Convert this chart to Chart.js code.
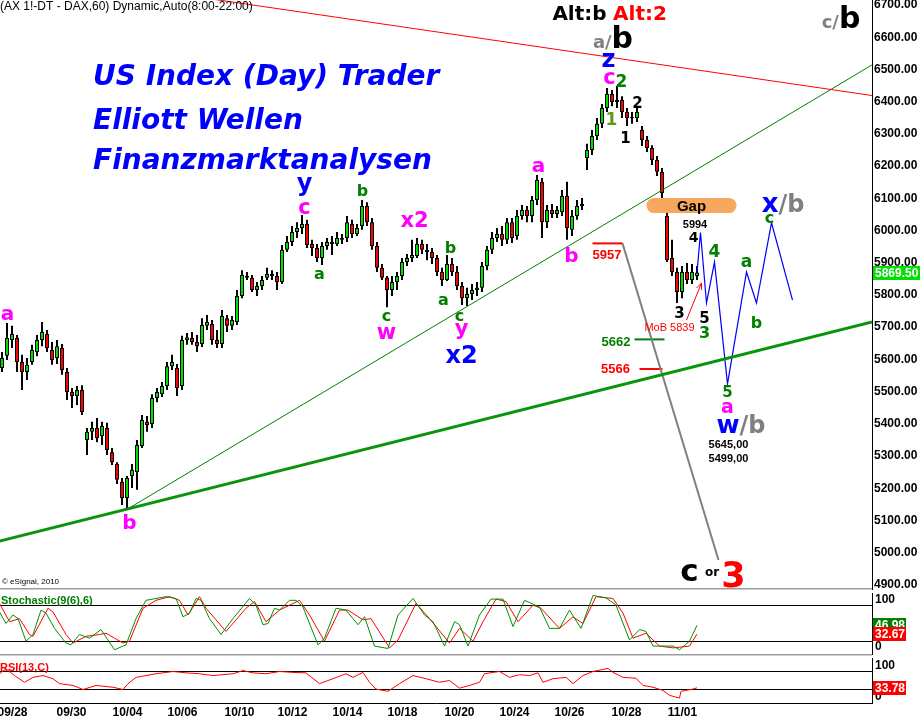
<!DOCTYPE html>
<html>
<head>
<meta charset="utf-8">
<title>DAX 60 - Elliott Wellen</title>
<script src="https://cdn.jsdelivr.net/npm/chart.js@4.4.1/dist/chart.umd.min.js"></script>
<style>
  html, body { margin: 0; padding: 0; background: #fff; }
  #board { position: relative; width: 920px; height: 719px; overflow: hidden; background: #fff; }
  #board canvas { position: absolute; left: 0; }
</style>
</head>
<body>
<div id="board">
  <canvas id="price" width="920" height="590" style="top:0;width:920px;height:590px"></canvas>
  <canvas id="stoch" width="920" height="66" style="top:590px;width:920px;height:66px"></canvas>
  <canvas id="rsi" width="920" height="63" style="top:656px;width:920px;height:63px"></canvas>
</div>
<script>

// Data

// hourly candles (FDAX 60 min), one entry per bar
var barOpen = [
  5573, 5611, 5660, 5666, 5592, 5561, 5592, 5623, 5660, 5679,
  5629, 5604, 5635, 5561, 5499, 5486, 5505, 5350, 5375, 5387,
  5362, 5387, 5312, 5275, 5219, 5170, 5238, 5250, 5331, 5406,
  5399, 5480, 5492, 5517, 5579, 5573, 5517, 5660, 5666, 5654,
  5648, 5704, 5710, 5660, 5648, 5728, 5704, 5716, 5797, 5859,
  5853, 5815, 5828, 5853, 5865, 5859, 5840, 5940, 5964, 5995,
  6008, 6020, 5958, 5946, 5915, 5952, 5964, 5958, 5977, 5977,
  6020, 5989, 6014, 6076, 6026, 5952, 5884, 5853, 5815, 5840,
  5859, 5902, 5915, 5921, 5958, 5940, 5933, 5915, 5871, 5846,
  5896, 5871, 5828, 5790, 5803, 5815, 5822, 5890, 5940, 5977,
  5989, 5971, 6026, 5983, 6045, 6064, 6045, 6095, 6151, 6026,
  6064, 6051, 6057, 6107, 6002, 6045, 6076, 6225, 6250, 6293,
  6331, 6380, 6424, 6399, 6405, 6368, 6349, 6349, 6312, 6281,
  6256, 6219, 6182, 6045, 5915, 5871, 5809, 5871, 5846, 5859
];
var barHigh = [
  5623, 5713, 5704, 5676, 5614, 5604, 5645, 5676, 5716, 5691,
  5654, 5660, 5648, 5573, 5511, 5517, 5520, 5387, 5406, 5418,
  5406, 5403, 5325, 5281, 5232, 5238, 5275, 5350, 5427, 5424,
  5492, 5511, 5530, 5592, 5614, 5586, 5673, 5682, 5685, 5676,
  5728, 5738, 5722, 5691, 5753, 5738, 5735, 5815, 5877, 5871,
  5862, 5840, 5859, 5884, 5877, 5871, 5955, 5983, 6014, 6026,
  6048, 6033, 5971, 5958, 5964, 5977, 5983, 5995, 5989, 6045,
  6033, 6020, 6095, 6088, 6039, 5964, 5896, 5859, 5859, 5871,
  5915, 5927, 5971, 5977, 5971, 5958, 5946, 5924, 5884, 5924,
  5915, 5890, 5840, 5822, 5834, 5840, 5902, 5952, 5995, 6008,
  6014, 6039, 6039, 6064, 6079, 6076, 6107, 6172, 6163, 6079,
  6082, 6076, 6126, 6151, 6064, 6095, 6101, 6269, 6312, 6349,
  6393, 6442, 6436, 6449, 6417, 6380, 6368, 6380, 6324, 6293,
  6265, 6231, 6194, 6057, 5971, 5884, 5890, 5899, 5896, 5890
];
var barLow = [
  5561, 5598, 5635, 5561, 5505, 5536, 5583, 5610, 5641, 5623,
  5583, 5586, 5552, 5474, 5449, 5458, 5427, 5303, 5350, 5343,
  5334, 5303, 5272, 5213, 5148, 5139, 5201, 5195, 5325, 5375,
  5387, 5467, 5483, 5505, 5567, 5486, 5505, 5645, 5645, 5623,
  5638, 5691, 5645, 5635, 5635, 5685, 5691, 5707, 5790, 5846,
  5809, 5797, 5815, 5846, 5846, 5815, 5834, 5933, 5952, 5977,
  5989, 5946, 5921, 5902, 5893, 5940, 5924, 5952, 5958, 5964,
  5977, 5983, 6002, 6014, 5940, 5871, 5846, 5762, 5797, 5815,
  5846, 5890, 5902, 5915, 5927, 5908, 5896, 5859, 5828, 5843,
  5859, 5815, 5769, 5766, 5784, 5797, 5809, 5877, 5927, 5964,
  5952, 5958, 5961, 5971, 6033, 6026, 6026, 6079, 5977, 6008,
  6039, 6039, 6045, 5971, 5983, 6033, 6064, 6188, 6234, 6281,
  6318, 6368, 6386, 6380, 6349, 6324, 6331, 6337, 6262, 6244,
  6203, 6169, 6101, 5902, 5859, 5775, 5790, 5834, 5834, 5846
];
var barClose = [
  5604, 5666, 5679, 5592, 5561, 5583, 5629, 5660, 5685, 5635,
  5598, 5641, 5567, 5499, 5486, 5505, 5437, 5375, 5387, 5356,
  5393, 5319, 5281, 5226, 5170, 5232, 5257, 5334, 5412, 5396,
  5480, 5499, 5517, 5579, 5592, 5511, 5660, 5669, 5654, 5641,
  5707, 5716, 5660, 5648, 5735, 5704, 5722, 5797, 5862, 5853,
  5815, 5828, 5846, 5865, 5859, 5840, 5940, 5964, 5995, 6008,
  6020, 5955, 5946, 5915, 5952, 5964, 5958, 5977, 5971, 6026,
  5989, 6008, 6076, 6026, 5952, 5884, 5853, 5815, 5840, 5859,
  5902, 5915, 5924, 5958, 5940, 5933, 5915, 5871, 5846, 5896,
  5871, 5828, 5790, 5803, 5815, 5822, 5890, 5940, 5977, 5989,
  5971, 6026, 5977, 6045, 6064, 6045, 6095, 6157, 6026, 6064,
  6051, 6064, 6107, 6008, 6045, 6076, 6082, 6250, 6293, 6331,
  6380, 6424, 6399, 6405, 6368, 6349, 6352, 6368, 6281, 6256,
  6219, 6182, 6116, 5908, 5871, 5809, 5871, 5846, 5871, 5869.5
];

// date ticks (bar index where each label sits)
var dateLabels = ['09/28', '09/30', '10/04', '10/06', '10/10', '10/12', '10/14',
                  '10/18', '10/20', '10/24', '10/26', '10/28', '11/01'];
var datePos = [2.1, 13.9, 25.1, 36.1, 47.5, 58.1, 69.1, 80.1, 91.5, 102.5, 113.5, 124.9, 136.1];

// Stochastic(9(6),6): %K green, %D red
var stochKBar = [-0.5, 0.8, 2.2, 3.2, 4.8, 6.2, 7.8, 8.8, 10.5, 12.8,
  13.8, 15.5, 17.5, 19.8, 22.5, 24.8, 26.8, 28.8, 32.8, 34.8,
  36.2, 37.5, 38.8, 39.8, 41.5, 43.8, 46.2, 49.5, 50.8, 52.2,
  53.2, 54.5, 55.5, 57.5, 58.8, 60.2, 63.2, 64.5, 66.8, 68.8,
  71.2, 72.5, 74.5, 77.2, 79.2, 82.2, 84.5, 86.2, 88.5, 90.5,
  91.5, 93.2, 95.5, 97.8, 100.2, 102.2, 104.5, 107.5, 109.5, 111.5,
  113.5, 115.8, 118.2, 120.8, 122.8, 125.5, 127.5, 128.8, 130.2, 131.5,
  134.2, 135.5, 137.5, 139];
var stochK = [69, 50, 64, 58, 21, 32, 72, 67, 42, 18,
  15, 32, 26, 40, 7, 15, 58, 88, 94, 91,
  61, 67, 91, 88, 58, 32, 58, 91, 80, 48,
  50, 75, 72, 88, 88, 77, 15, 26, 75, 72,
  48, 61, 13, 9, 64, 91, 64, 53, 13, 53,
  48, 13, 64, 90, 90, 45, 88, 77, 42, 42,
  72, 42, 96, 92, 80, 23, 40, 37, 13, 13,
  13, 7, 21, 46.98];
var stochDBar = [-0.5, 1.5, 3.5, 5.5, 6.2, 9.2, 10.2, 12.8, 14.2, 16.8,
  19.5, 20.8, 22.5, 24.2, 25.5, 28.2, 30.8, 33.5, 35.5, 37.2,
  39.5, 40.8, 44.8, 48.8, 50.5, 52.8, 55.5, 59.5, 61.5, 64.5,
  67.5, 69.2, 72.2, 73.8, 77.5, 79.2, 82.8, 85.5, 89.5, 91.5,
  92.8, 94.2, 96.2, 98.8, 100.8, 103.2, 106.2, 107.8, 111.5, 114.2,
  116.2, 118.8, 122.2, 124.2, 126.2, 128.8, 131.5, 134.2, 137.5, 139];
var stochD = [83, 53, 58, 32, 29, 75, 69, 32, 18, 29,
  32, 34, 26, 18, 21, 75, 88, 94, 88, 64,
  94, 75, 37, 75, 86, 53, 72, 88, 64, 21,
  72, 72, 56, 58, 10, 23, 83, 58, 18, 42,
  32, 21, 53, 90, 86, 53, 80, 75, 42, 61,
  50, 94, 91, 67, 26, 34, 13, 10, 13, 32.67];

// RSI(13,C)
var rsiBar = [-0.5, 0.8, 2.5, 4.5, 6.2, 8.2, 10.2, 11.5, 14.2, 16.2,
  18.8, 22.2, 24.2, 25.2, 26.8, 28.8, 30.8, 34.2, 36.8, 39.5,
  42.2, 46.2, 48.2, 50.2, 52.8, 55.5, 58.2, 60.8, 63.5, 66.2,
  68.8, 70.2, 72.2, 73.5, 74.8, 77.2, 79.5, 82.2, 84.8, 87.5,
  89.5, 91.5, 93.5, 95.5, 96.5, 98.2, 99.5, 101.5, 103.5, 105.5,
  107.2, 108.2, 110.2, 112.8, 114.2, 116.2, 118.2, 121.2, 122.2, 124.2,
  126.8, 128.2, 130.2, 132.2, 133.5, 135.5, 135.8, 138.2, 139];
var rsiVal = [65, 76, 61, 46, 57, 61, 54, 43, 39, 30,
  39, 35, 30, 43, 57, 61, 65, 70, 67, 65,
  61, 65, 72, 67, 65, 70, 68, 67, 43, 54,
  65, 57, 68, 46, 31, 26, 43, 61, 54, 46,
  50, 33, 39, 46, 65, 68, 70, 57, 63, 61,
  67, 46, 54, 57, 43, 61, 70, 77, 68, 57,
  55, 39, 35, 28, 17, 11, 26, 31, 33.78];

var lastPrice = 5869.5;

// projected wave path (blue)
var projBar = [139, 139.7, 140.9, 142.5, 145.1, 148.9, 150.9, 153.9, 158.1];
var projPrice = [5869.5, 5994, 5775, 5902, 5524, 5871, 5775, 6024, 5784];


// Annotations (data units: bar index / price)

var RED = '#ff0000', MAG = '#ff00ff', BLUE = '#0000ff', GRN = '#008000',
    OLIVE = '#5c9a1c', GREY = '#808080', BLK = '#000000';

var trendLines = [
  { from: [40, 6723], to: [174, 6419], color: RED, width: 1 },
  { from: [25.5, 5139], to: [174, 6514], color: GRN, width: 1 },
  { from: [-0.5, 5036], to: [174, 5716], color: '#0a940a', width: 3 },
  { from: [118.1, 5960], to: [124.1, 5960], color: RED, width: 2 },
  { from: [124.1, 5960], to: [143.3, 4977], color: GREY, width: 2 },
  { from: [126.5, 5662], to: [132.5, 5662], color: GRN, width: 2 },
  { from: [127.5, 5570], to: [132.1, 5570], color: RED, width: 2 }
];

var waveLabels = [
  { t: 'a', b: 1.1, p: 5738, c: MAG, s: 20 },
  { t: 'b', b: 25.5, p: 5095, c: MAG, s: 20 },
  { t: 'y', b: 60.5, p: 6135, c: BLUE, s: 24 },
  { t: 'c', b: 60.5, p: 6070, c: MAG, s: 21 },
  { t: 'a', b: 63.5, p: 5862, c: GRN, s: 16 },
  { t: 'b', b: 72.1, p: 6126, c: GRN, s: 16 },
  { t: 'x2', b: 82.5, p: 6033, c: MAG, s: 21 },
  { t: 'c', b: 76.9, p: 5731, c: GRN, s: 16 },
  { t: 'w', b: 76.9, p: 5682, c: MAG, s: 21 },
  { t: 'b', b: 89.7, p: 5949, c: GRN, s: 16 },
  { t: 'a', b: 88.3, p: 5781, c: GRN, s: 16 },
  { t: 'c', b: 91.5, p: 5731, c: GRN, s: 16 },
  { t: 'y', b: 91.9, p: 5685, c: MAG, s: 21 },
  { t: 'x2', b: 91.9, p: 5614, c: BLUE, s: 24 },
  { t: 'a', b: 107.3, p: 6197, c: MAG, s: 20 },
  { t: 'b', b: 113.9, p: 5924, c: MAG, s: 20 },
  { t: 'z', b: 121.3, p: 6529, c: BLUE, s: 24 },
  { t: 'c', b: 121.5, p: 6473, c: MAG, s: 21 },
  { t: '2', b: 123.9, p: 6464, c: GRN, s: 17 },
  { t: '1', b: 121.9, p: 6346, c: OLIVE, s: 17 },
  { t: '2', b: 127.1, p: 6396, c: BLK, s: 15 },
  { t: '1', b: 124.7, p: 6287, c: BLK, s: 15 },
  { t: 'Alt:b', b: 115.5, p: 6675, c: BLK, s: 20 },
  { t: 'Alt:2', b: 127.6, p: 6675, c: RED, s: 20 },
  { t: '4', b: 138.3, p: 5980, c: BLK, s: 14 },
  { t: '4', b: 142.5, p: 5936, c: GRN, s: 17 },
  { t: 'a', b: 148.9, p: 5902, c: GRN, s: 17 },
  { t: 'c', b: 153.5, p: 6036, c: GRN, s: 16 },
  { t: 'b', b: 150.9, p: 5716, c: GRN, s: 16 },
  { t: '3', b: 135.5, p: 5744, c: BLK, s: 15 },
  { t: '5', b: 140.5, p: 5731, c: BLK, s: 15 },
  { t: '3', b: 140.5, p: 5685, c: GRN, s: 16 },
  { t: '5', b: 145.1, p: 5499, c: GRN, s: 15 },
  { t: 'a', b: 145.1, p: 5449, c: MAG, s: 19 },
  { t: 'c', b: 137.5, p: 4937, c: BLK, s: 31 },
  { t: 'or', b: 142, p: 4937, c: BLK, s: 12 },
  { t: '3', b: 146.3, p: 4931, c: RED, s: 35 }
];

// mixed-colour labels, placed on their baseline
var waveGroups = [
  { parts: [['a/', GREY, 18], ['b', BLK, 30]], b: 122.2, p: 6565 },
  { parts: [['c/', GREY, 18], ['b', BLK, 30]], b: 167.8, p: 6629 },
  { parts: [['x', BLUE, 26], ['/', GREY, 24], ['b', GREY, 24]], b: 156.2, p: 6057 },
  { parts: [['w', BLUE, 25], ['/', GREY, 24], ['b', GREY, 24]], b: 147.8, p: 5371 }
];

var priceNotes = [
  { t: '5994', b: 138.6, p: 6020, c: BLK, f: 'bold 11px Arial', s: 11 },
  { t: '5645,00', b: 145.3, p: 5338, c: BLK, f: 'bold 11px Arial', s: 11 },
  { t: '5499,00', b: 145.3, p: 5295, c: BLK, f: 'bold 11px Arial', s: 11 },
  { t: '5957', b: 121.0, p: 5927, c: RED, f: 'bold 13px Arial', s: 14 },
  { t: '5662', b: 122.8, p: 5658, c: GRN, f: 'bold 13px Arial', s: 14 },
  { t: '5566', b: 122.7, p: 5573, c: RED, f: 'bold 13px Arial', s: 14 },
  { t: 'MoB 5839', b: 133.5, p: 5701, c: RED, f: '11px Arial', s: 12 }
];

var gapZone = { from: 128.9, to: 146.9, top: 6101, bottom: 6054 };
var mobArrow = [[136.9, 5722], [139.9, 5837]];


// Methods

// bar i sits on pixel column 5i+2, so 4px bodies and 2px wicks stay crisp
var X_MIN = -0.4, X_MAX = 174.0;

Chart.defaults.font.family = 'Arial, "Liberation Sans", sans-serif';
Chart.defaults.color = '#000';

function points(xs, ys) {
  return xs.map(function (x, i) { return { x: x, y: ys[i] }; });
}

function lineSet(data, color, width) {
  return {
    type: 'line', data: data, borderColor: color, borderWidth: width,
    pointRadius: 0, tension: 0, fill: false, order: 0
  };
}

function fixAxis(scale) {
  scale.width = 48;
  scale.paddingTop = 0;
  scale.paddingBottom = 0;
}

function px(chart, v) { return chart.scales.x.getPixelForValue(v); }
function py(chart, v) { return chart.scales.y.getPixelForValue(v); }

function centerShift(text) {
  if (/^[acemnorsuvwxz]+$/.test(text)) return 0.27;
  if (text === 'y') return 0.15;
  return 0.36;
}

function roundRect(ctx, x, y, w, h, r) {
  ctx.beginPath();
  ctx.moveTo(x + r, y);
  ctx.lineTo(x + w - r, y);
  ctx.arc(x + w - r, y + r, r, -Math.PI / 2, Math.PI / 2);
  ctx.lineTo(x + r, y + h);
  ctx.arc(x + r, y + r, r, Math.PI / 2, Math.PI * 1.5);
  ctx.closePath();
}

function valueBox(ctx, chart, y, text, bg, w) {
  var x = chart.chartArea.right + 1;
  ctx.fillStyle = bg;
  ctx.fillRect(x, Math.round(y) - 7, w, 14);
  ctx.fillStyle = '#fff';
  ctx.font = 'bold 12px Arial';
  ctx.textAlign = 'left';
  ctx.textBaseline = 'middle';
  ctx.fillText(text, x + 2, Math.round(y) + 0.5);
}

function separator(ctx, chart, y) {
  ctx.fillStyle = '#9a9a9a';
  ctx.fillRect(0, y, chart.chartArea.right, 1);
  ctx.fillStyle = '#d0d0d0';
  ctx.fillRect(0, y + 1, chart.chartArea.right, 1);
}

var priceOverlay = {
  id: 'priceOverlay',
  afterDatasetsDraw: function (chart) {
    var ctx = chart.ctx;
    ctx.save();

    // gap zone
    var gx0 = px(chart, gapZone.from), gx1 = px(chart, gapZone.to);
    var gy0 = py(chart, gapZone.top), gy1 = py(chart, gapZone.bottom);
    roundRect(ctx, gx0, gy0, gx1 - gx0, gy1 - gy0, (gy1 - gy0) / 2);
    ctx.fillStyle = '#f6a85e';
    ctx.fill();
    ctx.fillStyle = BLK;
    ctx.font = 'bold 15px Arial';
    ctx.textAlign = 'center';
    ctx.textBaseline = 'alphabetic';
    ctx.fillText('Gap', (gx0 + gx1) / 2, (gy0 + gy1) / 2 + 5.4);

    // MoB arrow
    var ax0 = px(chart, mobArrow[0][0]), ay0 = py(chart, mobArrow[0][1]);
    var ax1 = px(chart, mobArrow[1][0]), ay1 = py(chart, mobArrow[1][1]);
    var ang = Math.atan2(ay1 - ay0, ax1 - ax0);
    ctx.strokeStyle = RED;
    ctx.lineWidth = 1;
    ctx.beginPath();
    ctx.moveTo(ax0, ay0);
    ctx.lineTo(ax1, ay1);
    ctx.moveTo(ax1 - 7 * Math.cos(ang - 0.4), ay1 - 7 * Math.sin(ang - 0.4));
    ctx.lineTo(ax1, ay1);
    ctx.lineTo(ax1 - 7 * Math.cos(ang + 0.4), ay1 - 7 * Math.sin(ang + 0.4));
    ctx.stroke();

    // wave counts
    ctx.textAlign = 'center';
    ctx.textBaseline = 'alphabetic';
    waveLabels.forEach(function (l) {
      ctx.font = 'bold ' + l.s + 'px "DejaVu Sans"';
      ctx.fillStyle = l.c;
      ctx.fillText(l.t, px(chart, l.b), py(chart, l.p) + centerShift(l.t) * l.s);
    });
    priceNotes.forEach(function (l) {
      ctx.font = l.f;
      ctx.fillStyle = l.c;
      ctx.fillText(l.t, px(chart, l.b), py(chart, l.p) + 0.36 * l.s);
    });

    ctx.textAlign = 'left';
    waveGroups.forEach(function (g) {
      var widths = g.parts.map(function (pt) {
        ctx.font = 'bold ' + pt[2] + 'px "DejaVu Sans"';
        return ctx.measureText(pt[0]).width;
      });
      var total = widths.reduce(function (a, w) { return a + w; }, 0);
      var x = px(chart, g.b) - total / 2, y = py(chart, g.p);
      g.parts.forEach(function (pt, i) {
        ctx.font = 'bold ' + pt[2] + 'px "DejaVu Sans"';
        ctx.fillStyle = pt[1];
        ctx.fillText(pt[0], x, y);
        x += widths[i];
      });
    });

    // header and heading
    ctx.fillStyle = BLK;
    ctx.font = '12px Arial';
    ctx.fillText('(AX 1!-DT - DAX,60) Dynamic,Auto(8:00-22:00)', 0, 10);
    ctx.fillStyle = BLUE;
    ctx.font = 'italic bold 28px "DejaVu Sans"';
    ctx.fillText('US Index (Day) Trader', 93, 85);
    ctx.fillText('Elliott Wellen', 93, 129);
    ctx.fillText('Finanzmarktanalysen', 93, 169);
    ctx.fillStyle = BLK;
    ctx.font = '8px Arial';
    ctx.fillText('\u00a9 eSignal, 2010', 2, 584);

    ctx.restore();
  },
  afterDraw: function (chart) {
    var ctx = chart.ctx;
    ctx.save();
    valueBox(ctx, chart, py(chart, lastPrice), lastPrice.toFixed(2), '#00e000', 47);
    separator(ctx, chart, 588);
    ctx.restore();
  }
};

var stochOverlay = {
  id: 'stochOverlay',
  afterDraw: function (chart) {
    var ctx = chart.ctx, right = chart.chartArea.right;
    ctx.save();
    separator(ctx, chart, 64);
    ctx.fillStyle = GRN;
    ctx.font = 'bold 11px Arial';
    ctx.textAlign = 'left';
    ctx.textBaseline = 'alphabetic';
    ctx.fillText('Stochastic(9(6),6)', 1, 14);
    ctx.fillStyle = BLK;
    ctx.font = 'bold 12px Arial';
    ctx.textBaseline = 'middle';
    ctx.fillText('100', right + 3, 10);
    ctx.fillText('0', right + 3, 57);
    valueBox(ctx, chart, py(chart, stochK[stochK.length - 1]), stochK[stochK.length - 1].toFixed(2), GRN, 33);
    valueBox(ctx, chart, py(chart, stochD[stochD.length - 1]), stochD[stochD.length - 1].toFixed(2), RED, 33);
    ctx.restore();
  }
};

var rsiOverlay = {
  id: 'rsiOverlay',
  afterDraw: function (chart) {
    var ctx = chart.ctx, right = chart.chartArea.right;
    ctx.save();
    ctx.fillStyle = RED;
    ctx.font = 'bold 11px Arial';
    ctx.textAlign = 'left';
    ctx.textBaseline = 'alphabetic';
    ctx.fillText('RSI(13,C)', 0, 15);
    ctx.fillStyle = BLK;
    ctx.font = 'bold 12px Arial';
    ctx.textBaseline = 'middle';
    ctx.fillText('100', right + 3, 10);
    ctx.fillText('0', right + 3, 41);
    valueBox(ctx, chart, py(chart, rsiVal[rsiVal.length - 1]), rsiVal[rsiVal.length - 1].toFixed(2), RED, 33);
    ctx.restore();
  }
};

function init() {

  var idx = barClose.map(function (c, i) { return i; });

  var datasets = trendLines.map(function (t) {
    return lineSet([{ x: t.from[0], y: t.from[1] }, { x: t.to[0], y: t.to[1] }], t.color, t.width);
  });
  datasets.push(lineSet(points(projBar, projPrice), BLUE, 1.2));
  datasets.push({
    type: 'bar', order: 1, grouped: false, barThickness: 4, inflateAmount: 0,
    data: idx.map(function (i) { return { x: i, y: [barOpen[i], barClose[i]] }; }),
    backgroundColor: idx.map(function (i) { return barClose[i] >= barOpen[i] ? '#00e000' : '#ff0000'; }),
    borderColor: '#000', borderWidth: 1, borderSkipped: false
  });
  datasets.push({
    type: 'bar', order: 2, grouped: false, barThickness: 2, inflateAmount: 0,
    data: idx.map(function (i) { return { x: i, y: [barLow[i], barHigh[i]] }; }),
    backgroundColor: '#000', borderWidth: 0
  });

  new Chart(document.getElementById('price'), {
    type: 'bar',
    data: { datasets: datasets },
    options: {
      responsive: false, animation: false, devicePixelRatio: 1,
      layout: { padding: { top: 0, bottom: 1, left: 0, right: 0 } },
      plugins: { legend: { display: false }, tooltip: { enabled: false } },
      scales: {
        x: { type: 'linear', min: X_MIN, max: X_MAX, offset: false, display: false },
        y: {
          position: 'right', min: 4887.2, max: 6715.5,
          grid: { display: false, drawTicks: false },
          border: { display: true, color: '#000', width: 1 },
          ticks: {
            stepSize: 100, includeBounds: false, padding: 2, color: '#000',
            font: { weight: 'bold', size: 12 },
            callback: function (v) { return v.toFixed(2); }
          },
          afterFit: fixAxis
        }
      }
    },
    plugins: [priceOverlay]
  });

  new Chart(document.getElementById('stoch'), {
    type: 'line',
    data: {
      datasets: [
        lineSet(points(stochKBar, stochK), '#009000', 1),
        lineSet(points(stochDBar, stochD), RED, 1)
      ]
    },
    options: {
      responsive: false, animation: false, devicePixelRatio: 1,
      layout: { padding: { top: 3, bottom: 2, left: 0, right: 0 } },
      plugins: { legend: { display: false }, tooltip: { enabled: false } },
      scales: {
        x: { type: 'linear', min: X_MIN, max: X_MAX, offset: false, display: false },
        y: {
          position: 'right', min: 0, max: 100,
          grid: { color: '#000', drawTicks: false },
          border: { display: true, color: '#000', width: 1 },
          ticks: { display: false },
          afterBuildTicks: function (s) { s.ticks = [{ value: 20 }, { value: 80 }]; },
          afterFit: fixAxis
        }
      }
    },
    plugins: [stochOverlay]
  });

  new Chart(document.getElementById('rsi'), {
    type: 'line',
    data: { datasets: [lineSet(points(rsiBar, rsiVal), RED, 1)] },
    options: {
      responsive: false, animation: false, devicePixelRatio: 1,
      layout: { padding: { top: 2, bottom: 0, left: 0, right: 0 } },
      plugins: { legend: { display: false }, tooltip: { enabled: false } },
      scales: {
        x: {
          type: 'linear', min: X_MIN, max: X_MAX, offset: false, position: 'bottom',
          grid: { display: false, drawTicks: false },
          border: { display: true, color: '#000', width: 1 },
          ticks: {
            autoSkip: false, maxRotation: 0, minRotation: 0, padding: 2, color: '#000',
            font: { weight: 'bold', size: 12 },
            callback: function (v, i) { return dateLabels[i]; }
          },
          afterBuildTicks: function (s) {
            s.ticks = datePos.map(function (v) { return { value: v }; });
          },
          afterFit: function (s) { s.height = 16; s.paddingLeft = 0; s.paddingRight = 0; }
        },
        y: {
          position: 'right', min: 0, max: 100,
          grid: { color: '#000', drawTicks: false },
          border: { display: true, color: '#000', width: 1 },
          ticks: { display: false },
          afterBuildTicks: function (s) { s.ticks = [{ value: 30 }, { value: 70 }]; },
          afterFit: fixAxis
        }
      }
    },
    plugins: [rsiOverlay]
  });
}

init();
</script>
</body>
</html>
